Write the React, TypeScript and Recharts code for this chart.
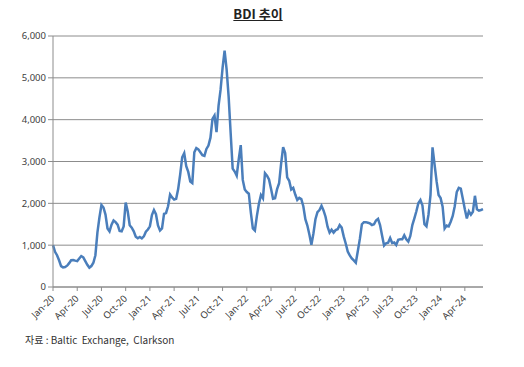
import React from "react";
import { LineChart, Line, XAxis, YAxis, CartesianGrid } from "recharts";

// weekly BDI readings (approx. 4 per month)
const bdi2020 = [
  1000, 840, 760, 640, 500, 470, 475, 510, 570, 640, 645, 630,
  620, 680, 740, 710, 620, 530, 460, 500, 580, 760, 1300, 1660,
  1960, 1900, 1730, 1400, 1330, 1490, 1590, 1550, 1490, 1340, 1330, 1450,
  2020, 1810, 1475, 1420, 1330, 1200, 1165, 1195, 1160, 1210, 1320, 1375,
];
const bdi2021 = [
  1450, 1720, 1840, 1740, 1470, 1350, 1400, 1750, 1770, 1930, 2210, 2140,
  2090, 2110, 2340, 2690, 3100, 3200, 2890, 2750, 2520, 2485, 3220, 3320,
  3290, 3220, 3150, 3135, 3300, 3380, 3570, 4020, 4100, 3700, 4330, 4710,
  5240, 5650, 5200, 4550, 3680, 2830, 2760, 2660, 3050, 3390, 2560, 2330,
];
const bdi2022 = [
  2270, 2230, 1780, 1400, 1350, 1700, 1990, 2200, 2120, 2720, 2660, 2570,
  2350, 2110, 2120, 2340, 2480, 2950, 3340, 3200, 2620, 2540, 2330, 2370,
  2210, 2080, 2130, 2100, 1930, 1620, 1470, 1255, 1010, 1280, 1620, 1790,
  1840, 1940, 1830, 1680, 1440, 1300, 1370, 1300, 1360, 1380, 1480, 1420,
];
const bdi2023 = [
  1210, 1040, 845, 755, 685, 635, 580, 860, 1150, 1500, 1550, 1550,
  1535, 1520, 1480, 1500, 1590, 1630, 1480, 1230, 990, 1045, 1060, 1170,
  1050, 1065, 1005, 1130, 1140, 1140, 1235, 1140, 1085, 1220, 1480, 1640,
  1810, 2010, 2080, 1950, 1500, 1450, 1730, 2200, 3340, 2930, 2530, 2200,
];
const bdi2024 = [
  2125, 1920, 1400, 1470, 1450, 1560, 1700, 1930, 2270, 2370, 2350, 2110,
  1860, 1640, 1810, 1730, 1800, 2180, 1860, 1825, 1840, 1860,
];

const quarterLabels = [
  "Jan-20", "Apr-20", "Jul-20", "Oct-20",
  "Jan-21", "Apr-21", "Jul-21", "Oct-21",
  "Jan-22", "Apr-22", "Jul-22", "Oct-22",
  "Jan-23", "Apr-23", "Jul-23", "Oct-23",
  "Jan-24", "Apr-24",
];
const yTicks = [0, 1000, 2000, 3000, 4000, 5000, 6000];

const values = [...bdi2020, ...bdi2021, ...bdi2022, ...bdi2023, ...bdi2024];
const data = values.map((v, i) => ({ t: i, bdi: v }));
const WEEKS_PER_QUARTER = 12;
const xTicks = quarterLabels.map((_, i) => i * WEEKS_PER_QUARTER);

const FONT = "'Noto Sans', 'DejaVu Sans', sans-serif";
const AXIS = "#8c8c8c";

function XTick(props: any) {
  const { x, y, payload } = props;
  const label = quarterLabels[Math.round(payload.value / WEEKS_PER_QUARTER)];
  return (
    <g transform={`translate(${x},${y + 4})`}>
      <text
        textAnchor="end"
        transform="rotate(-45)"
        fontSize={9.5}
        fontFamily={FONT}
        fill="#404040"
        dy={3}
      >
        {label}
      </text>
    </g>
  );
}

export default function App() {
  return (
    <div
      style={{
        position: "absolute",
        left: 0,
        top: 0,
        width: 524,
        height: 367,
        background: "#fff",
      }}
    >
      <div
        style={{
          position: "absolute",
          left: 0,
          width: 516,
          top: 4,
          textAlign: "center",
          fontFamily: "'Noto Sans CJK KR', sans-serif",
          fontWeight: 700,
          fontSize: 13,
          textDecoration: "underline",
          color: "#222",
        }}
      >
        BDI 추이
      </div>
      <LineChart
        width={524}
        height={367}
        data={data}
        margin={{ top: 36, right: 41, left: 0, bottom: 30 }}
      >
        <CartesianGrid vertical={false} stroke={AXIS} strokeWidth={1} />
        <XAxis
          dataKey="t"
          type="number"
          domain={[0, values.length - 1]}
          ticks={xTicks}
          interval={0}
          height={50}
          stroke={AXIS}
          tickSize={4}
          tick={<XTick />}
        />
        <YAxis
          domain={[0, 6000]}
          ticks={yTicks}
          width={53}
          stroke={AXIS}
          tickSize={5}
          tickFormatter={(v) => Number(v).toLocaleString("en-US")}
          tick={{ fontSize: 9.5, fontFamily: FONT, fill: "#404040" }}
        />
        <Line
          type="linear"
          dataKey="bdi"
          stroke="#4a7ebb"
          strokeWidth={2.5}
          dot={false}
          isAnimationActive={false}
        />
      </LineChart>
      <div
        style={{
          position: "absolute",
          left: 25,
          top: 332,
          fontFamily: "'Noto Sans CJK KR', sans-serif",
          fontSize: 10,
          color: "#333",
          whiteSpace: "pre",
        }}
      >
        {"자료 : Baltic  Exchange,  Clarkson"}
      </div>
    </div>
  );
}
